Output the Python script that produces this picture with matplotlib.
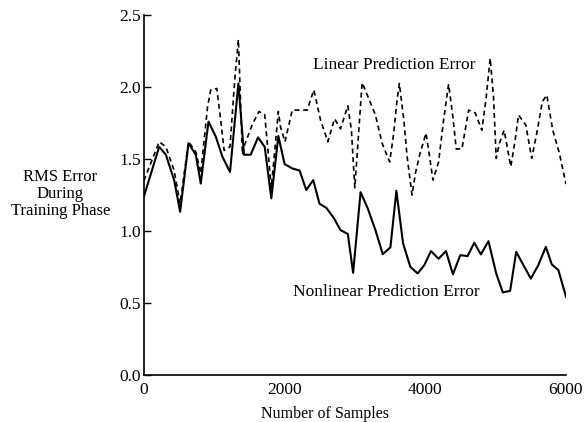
#!/usr/bin/env python3
"""RMS error during training: linear vs nonlinear prediction."""

import matplotlib
matplotlib.use('Agg')
import matplotlib.pyplot as plt

# nonlinear prediction error (solid line)
nl_x = [0, 217, 312, 430, 515, 634, 738, 808, 918, 1022, 1116, 1224, 1343, 1423,
        1518, 1622, 1717, 1811, 1911, 2000, 2109, 2213, 2308, 2407, 2496, 2596,
        2700, 2794, 2899, 2974, 3080, 3182, 3291, 3395, 3504, 3589, 3684, 3787,
        3891, 3986, 4081, 4189, 4294, 4393, 4497, 4601, 4696, 4790, 4898, 5008,
        5102, 5206, 5292, 5395, 5500, 5607, 5713, 5798, 5892, 6000]
nl_y = [1.24, 1.585, 1.53, 1.354, 1.134, 1.61, 1.53, 1.33, 1.76, 1.655,
        1.516, 1.41, 2.025, 1.53, 1.53, 1.65, 1.585, 1.227, 1.66, 1.465,
        1.435, 1.42, 1.285, 1.354, 1.19, 1.16, 1.09, 1.007, 0.98, 0.71,
        1.27, 1.157, 1.007, 0.84, 0.887, 1.28, 0.915, 0.752, 0.706, 0.764,
        0.861, 0.808, 0.861, 0.70, 0.833, 0.826, 0.919, 0.838, 0.93, 0.706,
        0.574, 0.585, 0.856, 0.764, 0.67, 0.764, 0.891, 0.769, 0.729, 0.544]

# linear prediction error (dashed line)
lin_x = [0, 217, 312, 430, 515, 634, 738, 808, 904, 950, 1036, 1092, 1140, 1224,
         1291, 1343, 1400, 1433, 1541, 1636, 1717, 1811, 1911, 1943, 2005, 2109,
         2213, 2321, 2416, 2511, 2615, 2710, 2794, 2899, 2950, 2998, 3102, 3196,
         3291, 3386, 3494, 3551, 3599, 3631, 3693, 3741, 3811, 3859, 3920, 4010,
         4048, 4109, 4189, 4260, 4331, 4393, 4440, 4521, 4616, 4710, 4804, 4866,
         4922, 4970, 5008, 5054, 5121, 5215, 5277, 5325, 5429, 5513, 5585, 5665,
         5727, 5812, 5906, 6000]
lin_y = [1.35, 1.62, 1.585, 1.42, 1.19, 1.62, 1.55, 1.40, 1.86, 1.98, 1.99, 1.77,
         1.56, 1.585, 2.05, 2.33, 1.53, 1.60, 1.74, 1.83, 1.81, 1.30, 1.83, 1.72,
         1.62, 1.84, 1.84, 1.84, 1.98, 1.77, 1.62, 1.78, 1.71, 1.87, 1.70, 1.30,
         2.03, 1.92, 1.806, 1.61, 1.48, 1.68, 1.91, 2.025, 1.78, 1.52, 1.25, 1.40,
         1.53, 1.68, 1.56, 1.354, 1.48, 1.77, 2.02, 1.79, 1.57, 1.57, 1.84, 1.82,
         1.70, 1.93, 2.20, 1.93, 1.505, 1.61, 1.70, 1.447, 1.63, 1.806, 1.736,
         1.505, 1.68, 1.90, 1.944, 1.70, 1.54, 1.326]

x_ticks = [0, 2000, 4000, 6000]
y_ticks = [0.0, 0.5, 1.0, 1.5, 2.0, 2.5]

plt.rcParams['font.family'] = ['Liberation Serif', 'DejaVu Serif']

fig = plt.figure(figsize=(5.85, 4.22), dpi=100)
ax = fig.add_axes([0.246, 0.111, 0.7215, 0.8535])

ax.plot(nl_x, nl_y, color='black', linewidth=1.5)
ax.plot(lin_x, lin_y, color='black', linewidth=1.2, linestyle=(0, (3.0, 2.2)))

ax.set_xlim(0, 6000)
ax.set_ylim(0, 2.5)
ax.set_xticks(x_ticks)
ax.set_xticklabels([str(t) for t in x_ticks])
ax.set_yticks(y_ticks)
ax.set_yticklabels([f'{t:.1f}' for t in y_ticks])
ax.tick_params(axis='y', direction='in', length=5, width=1, pad=2, labelsize=12.5)
ax.tick_params(axis='x', length=0, pad=5, labelsize=12.5)

for side in ('top', 'right'):
    ax.spines[side].set_visible(False)
for side in ('left', 'bottom'):
    ax.spines[side].set_linewidth(1.2)

ax.set_xlabel('Number of Samples', fontsize=11.5, labelpad=3)
ax.xaxis.set_label_coords(0.43, -0.085)

fig.text(0.103, 0.54, 'RMS Error\nDuring\nTraining Phase', ha='center', va='center',
         fontsize=12, linespacing=1.1, multialignment='center')

ax.text(2410, 2.15, 'Linear Prediction Error', fontsize=12.5, va='center', ha='left')
ax.text(2124, 0.58, 'Nonlinear Prediction Error', fontsize=12.5, va='center', ha='left')

fig.savefig('out.png', dpi=100)
